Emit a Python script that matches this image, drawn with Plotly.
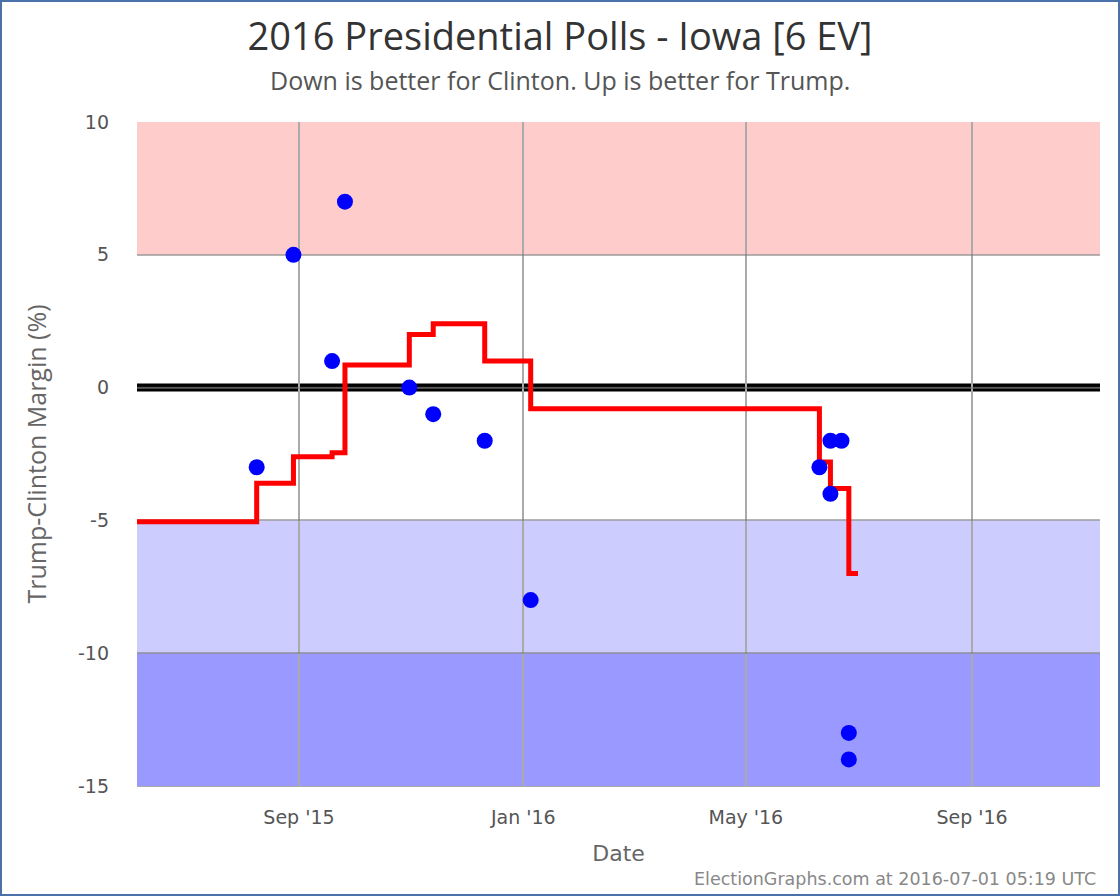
import plotly.graph_objects as go

# Poll data (date, Trump-Clinton margin)
poll_dates = ["2015-08-09", "2015-08-29", "2015-09-19", "2015-09-26", "2015-10-31",
              "2015-11-13", "2015-12-11", "2016-01-05", "2016-06-10", "2016-06-16",
              "2016-06-16", "2016-06-22", "2016-06-26", "2016-06-26"]
poll_margins = [-3, 5, 1, 7, 0, -1, -2, -8, -3, -4, -2, -2, -13, -14]

# Poll average (step line)
avg_dates = ["2015-06-04 22:00", "2015-08-09", "2015-08-29", "2015-09-19", "2015-09-26",
             "2015-10-31", "2015-11-13", "2015-12-11", "2016-01-05", "2016-06-10",
             "2016-06-16", "2016-06-26", "2016-07-01"]
avg_margins = [-5.05, -3.6, -2.6, -2.45, 0.85, 2.0, 2.4, 1.0, -0.8, -2.8, -3.8, -7.0, -7.0]

x_range = ["2015-06-04 22:00", "2016-11-09 14:00"]
y_ticks = [10, 5, 0, -5, -10, -15]

W, H = 1120, 896
ML, MR, MT, MB = 137, 20, 122, 110
PW, PH = W - ML - MR, H - MT - MB


def px_x(px):
    return (px - ML) / PW


def px_y(py):
    return (H - MB - py) / PH


fig = go.Figure()

fig.add_trace(go.Scatter(
    x=avg_dates, y=avg_margins, mode="lines", line_shape="hv",
    line=dict(color="#ff0000", width=5), hoverinfo="skip", showlegend=False))

fig.add_trace(go.Scatter(
    x=poll_dates, y=poll_margins, mode="markers",
    marker=dict(color="#0000ff", size=16), showlegend=False))

# Background bands
bands = [(5, 10, "#ffcccc"), (-10, -5, "#ccccff"), (-15, -10, "#9999ff")]
for y0, y1, c in bands:
    fig.add_shape(type="rect", xref="paper", yref="y", x0=0, x1=1, y0=y0, y1=y1,
                  fillcolor=c, line_width=0, layer="below")

# zero line (double black)
fig.add_shape(type="line", xref="paper", yref="y", x0=0, x1=1, y0=0, y1=0,
              line=dict(color="#000000", width=8), layer="below")
fig.add_shape(type="line", xref="paper", yref="y", x0=0, x1=1, y0=0, y1=0,
              line=dict(color="#333333", width=1.5), layer="below")

# outer border
fig.add_shape(type="rect", xref="paper", yref="paper",
              x0=px_x(1), x1=px_x(W - 1), y0=px_y(H - 1), y1=px_y(1),
              line=dict(color="#4a72a8", width=2), fillcolor="rgba(0,0,0,0)")

fig.update_layout(
    width=W, height=H,
    margin=dict(l=ML, r=MR, t=MT, b=MB),
    paper_bgcolor="white", plot_bgcolor="white",
    font=dict(family="DejaVu Sans", color="#555555"),
    title=dict(text="2016 Presidential Polls - Iowa [6 EV]", x=0.5, xanchor="center",
               y=1 - 37 / H, yanchor="middle",
               font=dict(family="Open Sans", size=38, color="#333333")),
    xaxis=dict(range=x_range, type="date", tick0="2015-09-01", dtick="M4",
               tickformat="%b '%y", showgrid=True, gridcolor="#aaaaaa", gridwidth=1.5,
               zeroline=False, showline=True, linecolor="#aaaaaa", linewidth=1,
               ticks="", ticklabelstandoff=14, tickfont=dict(size=19, color="#555555"),
               title=dict(text="Date", font=dict(family="DejaVu Sans", size=22, color="#666666"),
                          standoff=18)),
    yaxis=dict(range=[-15, 10], tickvals=y_ticks, ticktext=[str(v) for v in y_ticks],
               showgrid=True, gridcolor="rgba(120,120,120,0.55)", gridwidth=1.5,
               zeroline=False, showline=False, ticks="", ticklabelstandoff=27,
               tickfont=dict(size=19, color="#555555"),
               title=dict(text="Trump-Clinton Margin (%)",
                          font=dict(family="Open Sans", size=25, color="#666666"), standoff=24)),
)

fig.add_annotation(text="Down is better for Clinton. Up is better for Trump.",
                   xref="paper", yref="paper", x=px_x(W / 2), y=px_y(80),
                   xanchor="center", yanchor="middle", showarrow=False,
                   font=dict(family="Open Sans", size=25, color="#555555"))

fig.add_annotation(text="ElectionGraphs.com at 2016-07-01 05:19 UTC",
                   xref="paper", yref="paper", x=px_x(1098), y=px_y(879),
                   xanchor="right", yanchor="middle", showarrow=False,
                   font=dict(family="DejaVu Sans", size=17.5, color="#888888"))

fig.write_html("out.html", config={"displayModeBar": False},
               post_script="document.body.style.margin='0';")
